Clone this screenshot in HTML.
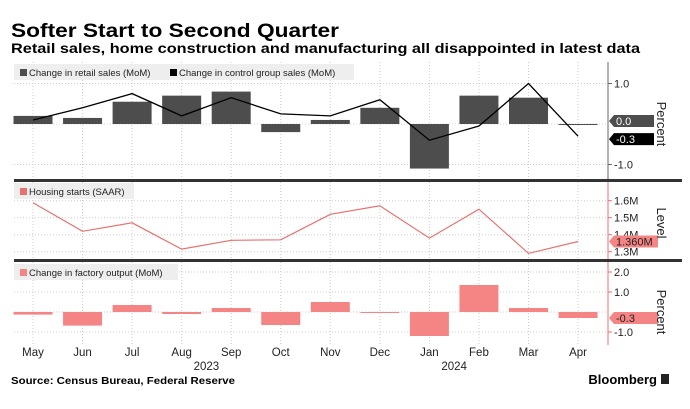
<!DOCTYPE html>
<html><head><meta charset="utf-8"><style>
body{margin:0;background:#fff;width:690px;height:409px;overflow:hidden}
svg{display:block;font-family:"Liberation Sans",sans-serif}
</style></head><body>
<svg id="c" width="690" height="409">
<text x="11" y="37" font-size="19" font-weight="bold" textLength="328" lengthAdjust="spacingAndGlyphs">Softer Start to Second Quarter</text>
<text x="11" y="53" font-size="14" font-weight="bold" textLength="629" lengthAdjust="spacingAndGlyphs">Retail sales, home construction and manufacturing all disappointed in latest data</text>
<g id="g"></g>
<text x="11" y="384" font-size="10.5" font-weight="bold" textLength="224" lengthAdjust="spacingAndGlyphs">Source: Census Bureau, Federal Reserve</text>
<text x="657" y="384" font-size="13" font-weight="bold" text-anchor="end">Bloomberg</text>
<rect x="661" y="374" width="8" height="10" fill="#222"/>
</svg>
<script>
const months=["May","Jun","Jul","Aug","Sep","Oct","Nov","Dec","Jan","Feb","Mar","Apr"];
const retail=[0.2,0.15,0.55,0.7,0.8,-0.2,0.1,0.4,-1.1,0.7,0.65,0.0];
const control=[0.1,0.4,0.75,0.2,0.65,0.25,0.2,0.6,-0.4,-0.05,1.0,-0.3];
const housing=[1.588,1.42,1.47,1.315,1.367,1.37,1.52,1.57,1.38,1.55,1.29,1.36];
const factory=[-0.13,-0.68,0.35,-0.1,0.2,-0.65,0.5,-0.02,-1.2,1.35,0.2,-0.3];
const ticks1=[1.0,-1.0];
const ticks2=[1.6,1.5,1.4,1.3];
const ticks3=[2.0,1.0,-1.0];
const NS="http://www.w3.org/2000/svg",G=document.getElementById('g');
function el(t,a,txt){const e=document.createElementNS(NS,t);for(const k in a)e.setAttribute(k,a[k]);if(txt!==undefined)e.textContent=txt;G.appendChild(e);return e;}
const x=i=>33+i*49.55;
const y1=v=>124-v*40.5;
const y2=v=>200.7-(v-1.6)*170;
const y3=v=>312-v*20;
const L=14,R=608;
function grid(top,bot,hs){months.forEach((m,i)=>{const e=el('line',{x1:x(i),x2:x(i),y1:top,y2:bot,stroke:'#ccc','stroke-dasharray':'1,2'});});
hs.forEach(h=>{const e=el('line',{x1:L,x2:R,y1:h,y2:h,stroke:'#ccc','stroke-dasharray':'1,2'});});}
grid(62,179,[y1(1),y1(0),y1(-1)]);
grid(182,259,ticks2.map(y2));
grid(262,345,[y3(2),y3(1),y3(0),y3(-1)]);
retail.forEach((v,i)=>{const e=el('rect',{x:x(i)-19.5,y:Math.min(y1(v),y1(0)),width:39,height:Math.max(Math.abs(y1(v)-y1(0)),1),fill:'#4d4d4d'});});
let e=el('polyline',{points:control.map((v,i)=>x(i)+','+y1(v)).join(' '),fill:'none',stroke:'#000','stroke-width':1.3});

e=el('polyline',{points:housing.map((v,i)=>x(i)+','+y2(v)).join(' '),fill:'none',stroke:'#e87070','stroke-width':1.2});

factory.forEach((v,i)=>{const r=el('rect',{x:x(i)-19.5,y:Math.min(y3(v),y3(0)),width:39,height:Math.max(Math.abs(y3(v)-y3(0)),1),fill:'#f58484'});});
[179,259].forEach(yy=>{const s=el('rect',{x:L,y:yy,width:682-L,height:3,fill:'#333'});});
[[62,179,'#666'],[182,259,'#e87070'],[262,345,'#e87070']].forEach(([a,b,c])=>{const s=el('line',{x1:R,x2:R,y1:a,y2:b,stroke:c});});
function tick(yy,lab,c){const t=el('line',{x1:R,x2:R+4,y1:yy,y2:yy,stroke:c});
const tx=el('text',{x:R+6,y:yy+4,'font-size':11,fill:'#222'},lab);}
ticks1.forEach(v=>tick(y1(v),v.toFixed(1),'#666'));
ticks2.forEach(v=>tick(y2(v),v.toFixed(1)+'M','#e87070'));
ticks3.forEach(v=>tick(y3(v),v.toFixed(1),'#e87070'));
function tag(yy,lab,bg,fg,w){const p=el('path',{d:`M${R+1},${yy} L${R+6},${yy-6} L${R+6+w},${yy-6} L${R+6+w},${yy+6} L${R+6},${yy+6} Z`,fill:bg});
const t=el('text',{x:R+8,y:yy+4,'font-size':11,fill:fg},lab);}
tag(y1(0)-3,'0.0','#4d4d4d','#fff',40);
tag(y1(-0.3)+3,'-0.3','#000','#fff',40);
tag(y2(1.36),'1.360M','#f58484','#222',44);
tag(y3(-0.3),'-0.3','#f58484','#222',44);
function ytitle(cx,cy,lab){const t=el('text',{x:cx,y:cy,'font-size':13,fill:'#222','text-anchor':'middle',transform:`rotate(90 ${cx} ${cy})`},lab);}
ytitle(657,124,'Percent');ytitle(657,223,'Level');ytitle(657,312,'Percent');
function legend(x0,yy,w,items){const b=el('rect',{x:x0,y:yy,width:w,height:16,fill:'#eee'});
items.forEach(([lx,c,lab])=>{const s=el('rect',{x:lx,y:yy+5,width:7,height:7,fill:c});
const t=el('text',{x:lx+9,y:yy+12,'font-size':9.5,fill:'#222'},lab);});}
legend(14,64,340,[[20,'#4d4d4d','Change in retail sales (MoM)'],[170,'#000','Change in control group sales (MoM)']]);
legend(14,183,120,[[20,'#e87070','Housing starts (SAAR)']]);
legend(14,264,164,[[20,'#f58484','Change in factory output (MoM)']]);
months.forEach((m,i)=>{const t=el('text',{x:x(i),y:356,'font-size':11.5,fill:'#222','text-anchor':'middle'},m);});
[[x(3.5),'2023'],[x(8.5),'2024']].forEach(([xx,l])=>{const t=el('text',{x:xx,y:370,'font-size':11.5,fill:'#222','text-anchor':'middle'},l);});
</script>
</body></html>
